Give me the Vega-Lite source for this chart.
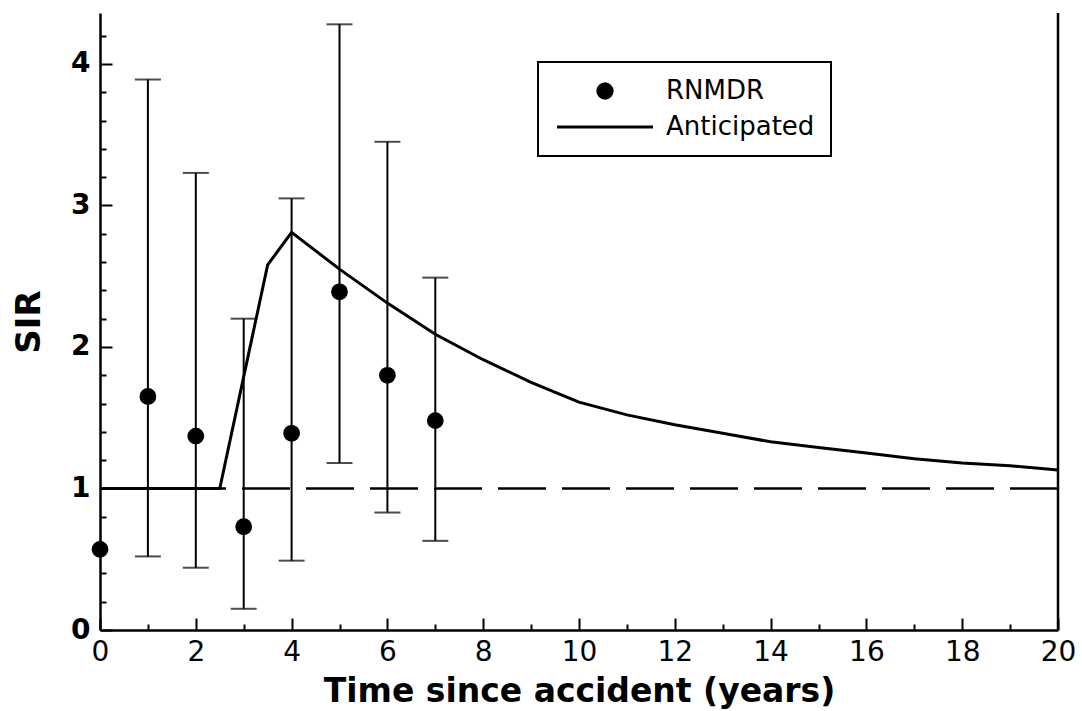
{
  "$schema": "https://vega.github.io/schema/vega-lite/v6.json",
  "width": 958,
  "height": 617,
  "autosize": {"type": "none"},
  "padding": {"left": 100, "top": 13, "right": 24, "bottom": 81},
  "background": "white",
  "config": {
    "view": {"stroke": null},
    "axis": {"grid": false, "domainColor": "black", "domainWidth": 2.5, "tickColor": "black", "tickWidth": 2, "labelColor": "black", "titleColor": "black", "labelOverlap": false},
    "legend": {"strokeWidth": 2}
  },
  "datasets": {
    "obs": [
      {"t": 0, "sir": 0.57, "lo": null, "hi": null, "series": "RNMDR"},
      {"t": 1, "sir": 1.65, "lo": 0.52, "hi": 3.89, "series": "RNMDR"},
      {"t": 2, "sir": 1.37, "lo": 0.44, "hi": 3.23, "series": "RNMDR"},
      {"t": 3, "sir": 0.73, "lo": 0.15, "hi": 2.20, "series": "RNMDR"},
      {"t": 4, "sir": 1.39, "lo": 0.49, "hi": 3.05, "series": "RNMDR"},
      {"t": 5, "sir": 2.39, "lo": 1.18, "hi": 4.28, "series": "RNMDR"},
      {"t": 6, "sir": 1.80, "lo": 0.83, "hi": 3.45, "series": "RNMDR"},
      {"t": 7, "sir": 1.48, "lo": 0.63, "hi": 2.49, "series": "RNMDR"}
    ],
    "ant": [
      {"t": 0, "sir": 1.0},
      {"t": 2.5, "sir": 1.0},
      {"t": 3.5, "sir": 2.58},
      {"t": 4, "sir": 2.81},
      {"t": 5, "sir": 2.55},
      {"t": 6, "sir": 2.31},
      {"t": 7, "sir": 2.09},
      {"t": 8, "sir": 1.91},
      {"t": 9, "sir": 1.75},
      {"t": 10, "sir": 1.61},
      {"t": 11, "sir": 1.52},
      {"t": 12, "sir": 1.45},
      {"t": 13, "sir": 1.39},
      {"t": 14, "sir": 1.33},
      {"t": 15, "sir": 1.29},
      {"t": 16, "sir": 1.25},
      {"t": 17, "sir": 1.21},
      {"t": 18, "sir": 1.18},
      {"t": 19, "sir": 1.16},
      {"t": 20, "sir": 1.13}
    ],
    "refs": [
      {"t": 20, "sir": 1}
    ]
  },
  "encoding": {
    "x": {
      "field": "t", "type": "quantitative",
      "scale": {"domain": [0, 20], "nice": false, "zero": false},
      "axis": {
        "values": [0,1,2,3,4,5,6,7,8,9,10,11,12,13,14,15,16,17,18,19,20],
        "tickSize": {"condition": {"test": "datum.value % 2 == 0", "value": -12}, "value": -6},
        "labelExpr": "datum.value % 2 == 0 ? datum.label : ''",
        "labelFont": "DejaVu Sans", "labelFontSize": 28, "labelPadding": 20,
        "labelFlush": false, "labelOverlap": false,
        "title": "Time since accident (years)",
        "titleFont": "DejaVu Sans", "titleFontWeight": "bold", "titleFontSize": 33, "titlePadding": 3
      }
    },
    "y": {
      "field": "sir", "type": "quantitative",
      "scale": {"domain": [0, 4.36], "nice": false, "zero": false},
      "axis": {
        "values": [0,0.2,0.4,0.6,0.8,1,1.2,1.4,1.6,1.8,2,2.2,2.4,2.6,2.8,3,3.2,3.4,3.6,3.8,4,4.2],
        "tickSize": {"condition": {"test": "abs(datum.value - round(datum.value)) < 0.01", "value": -12}, "value": -6},
        "labelExpr": "abs(datum.value - round(datum.value)) < 0.01 ? format(datum.value, 'd') : ''",
        "labelFont": "DejaVu Sans", "labelFontWeight": "bold", "labelFontSize": 28, "labelPadding": 22,
        "labelFlush": false, "labelOverlap": false,
        "title": "SIR",
        "titleFont": "DejaVu Sans", "titleFontWeight": "bold", "titleFontSize": 34, "titlePadding": 24
      }
    }
  },
  "layer": [
    {
      "data": {"name": "ant"},
      "mark": {"type": "line", "color": "black", "strokeWidth": 3}
    },
    {
      "data": {"name": "refs"},
      "mark": {"type": "rule", "color": "black", "strokeWidth": 2.5, "strokeDash": [48, 16]},
      "encoding": {"x": null}
    },
    {
      "data": {"name": "refs"},
      "mark": {"type": "rule", "color": "black", "strokeWidth": 2.5},
      "encoding": {"y": null}
    },
    {
      "data": {"name": "obs"},
      "transform": [{"filter": "datum.lo != null"}, {"fold": ["lo", "hi"], "as": ["end", "sir"]}],
      "mark": {"type": "line", "color": "black", "strokeWidth": 2},
      "encoding": {
        "detail": {"field": "t", "type": "nominal"}
      }
    },
    {
      "data": {"name": "obs"},
      "transform": [{"filter": "datum.lo != null"}, {"fold": ["lo", "hi"], "as": ["end", "sir"]}],
      "mark": {"type": "tick", "orient": "horizontal", "color": "black", "thickness": 2, "size": 26}
    },
    {
      "data": {"name": "obs"},
      "mark": {"type": "point", "filled": true, "color": "black", "stroke": "black", "strokeWidth": 3, "opacity": 1, "size": 190},
      "encoding": {
        "shape": {
          "field": "series", "type": "nominal",
          "scale": {"domain": ["RNMDR", "Anticipated"], "range": ["circle", "M-5.54,-0.18H5.54V0.18H-5.54Z"]},
          "legend": {
            "orient": "none", "legendX": 438, "legendY": 49, "title": null, "direction": "vertical",
            "strokeColor": "black", "padding": 16,
            "labelFont": "DejaVu Sans", "labelFontSize": 26, "labelColor": "black",
            "labelOffset": 48, "symbolOffset": 38,
            "rowPadding": 10, "symbolSize": 300,
            "symbolFillColor": "black", "symbolStrokeColor": "black", "symbolStrokeWidth": 0, "symbolOpacity": 1
          }
        }
      }
    }
  ]
}
